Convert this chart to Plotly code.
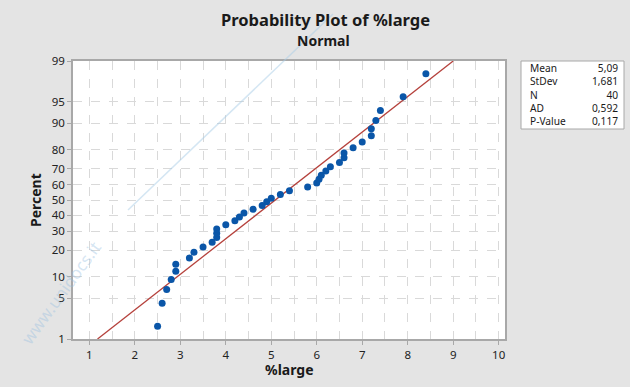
import plotly.graph_objects as go
from statistics import NormalDist

# ---- data ----
large = [2.5, 2.6, 2.7, 2.8, 2.9, 2.9, 3.2, 3.3, 3.5, 3.7,
         3.8, 3.8, 3.8, 4.0, 4.2, 4.3, 4.4, 4.6, 4.8, 4.9,
         5.0, 5.2, 5.4, 5.8, 6.0, 6.05, 6.1, 6.2, 6.3, 6.5,
         6.6, 6.6, 6.8, 7.0, 7.2, 7.2, 7.3, 7.4, 7.9, 8.4]
MEAN = 5.09
STDEV = 1.681
pct_ticks = [1, 5, 10, 20, 30, 40, 50, 60, 70, 80, 90, 95, 99]
x_ticks = [1, 2, 3, 4, 5, 6, 7, 8, 9, 10]
stat_labels = ["Mean", "StDev", "N", "AD", "P-Value"]
stat_values = ["5,09", "1,681", "40", "0,592", "0,117"]

nd = NormalDist()
n = len(large)
xs = sorted(large)
zs = [nd.inv_cdf((i + 1 - 0.3) / (n + 0.4)) for i in range(n)]
zlo, zhi = nd.inv_cdf(0.01), nd.inv_cdf(0.99)
fit_x = [MEAN + STDEV * zlo, MEAN + STDEV * zhi]
fit_z = [zlo, zhi]

FONT = "Noto Sans"
fig = go.Figure()
fig.add_trace(go.Scatter(x=fit_x, y=fit_z, mode="lines",
                         line=dict(color="#b5413c", width=1.3), hoverinfo="skip"))
fig.add_trace(go.Scatter(x=xs, y=zs, mode="markers",
                         marker=dict(color="#0a56a8", size=7)))

grid = "#d9d9d9"
fig.update_xaxes(range=[0.64, 10.14], tickvals=x_ticks, showgrid=True, gridcolor=grid,
                 griddash="dash", gridwidth=1,
                 minor=dict(dtick=0.5, tick0=0, showgrid=True, gridcolor=grid, griddash="dash"),
                 showline=True, linecolor="#a8a8a8", linewidth=1.5, mirror=True,
                 ticks="outside", ticklen=4, tickcolor="#a8a8a8",
                 tickfont=dict(family=FONT, size=11.5, color="#222"), zeroline=False)
fig.update_yaxes(range=[zlo, zhi], tickvals=[nd.inv_cdf(p / 100) for p in pct_ticks],
                 ticktext=[str(p) for p in pct_ticks], showgrid=True, gridcolor=grid,
                 griddash="dash", showline=True, linecolor="#a8a8a8", linewidth=1.5, mirror=True,
                 ticks="outside", ticklen=4, tickcolor="#a8a8a8",
                 tickfont=dict(family=FONT, size=11.5, color="#222"), zeroline=False)

W, H = 630, 387
L, R, T, B = 73, 125, 61, 48
pw, ph = W - L - R, H - T - B


def px(x):
    return (x - L) / pw


def py(y):
    return (H - B - y) / ph


ann = [
    dict(text="<b>Probability Plot of %large</b>", x=px(325), y=py(19.5), font=dict(size=16.5)),
    dict(text="<b>Normal</b>", x=px(323), y=py(40.5), font=dict(size=14)),
    dict(text="<b>Percent</b>", x=px(35), y=0.5, textangle=-90, font=dict(size=14)),
    dict(text="<b>%large</b>", x=0.5, y=py(369.5), font=dict(size=14)),
    dict(text="www.unidocs.it", x=px(60), y=py(293), textangle=-54,
         font=dict(size=17, color="rgba(150,190,225,0.4)")),
    dict(text="<br>".join(stat_labels), x=px(528), y=py(94.5), xanchor="left", align="left",
         font=dict(size=10.2)),
    dict(text="<br>".join(stat_values), x=px(620), y=py(94.5), xanchor="right", align="right",
         font=dict(size=10.2)),
]
for a in ann:
    a.setdefault("xanchor", "center")
    a.update(xref="paper", yref="paper", yanchor="middle", showarrow=False)
    a["font"] = dict(family=FONT, color=a["font"].get("color", "#1a1a1a"), size=a["font"]["size"])

fig.update_layout(
    width=W, height=H, margin=dict(l=L, r=R, t=T, b=B),
    paper_bgcolor="#e4e4e4", plot_bgcolor="#ffffff", showlegend=False,
    annotations=ann,
    shapes=[
        dict(type="rect", xref="paper", yref="paper", x0=px(521), x1=px(624), y0=py(129), y1=py(61),
             line=dict(color="#a8a8a8", width=1), fillcolor="white", layer="below"),
        dict(type="line", xref="paper", yref="paper", x0=px(128), y0=py(210), x1=px(333), y1=py(14),
             line=dict(color="rgba(170,205,232,0.5)", width=1.5)),
    ],
)
fig.write_html("out.html")
